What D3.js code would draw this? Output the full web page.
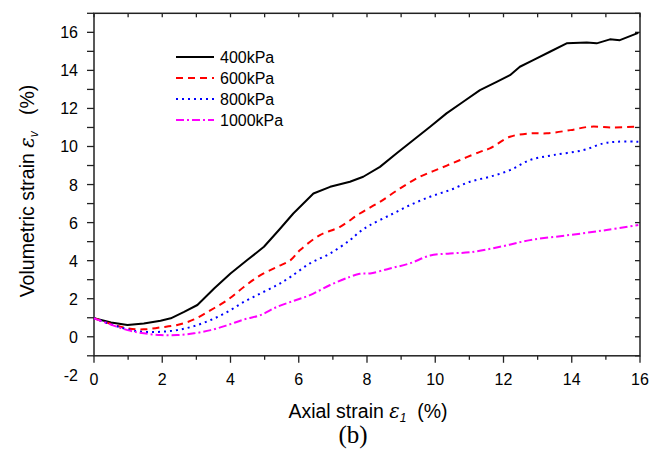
<!DOCTYPE html>
<html lang="en">
<head>
    <meta charset="utf-8">
    <script src="https://d3js.org/d3.v7.min.js"></script>
    <style>
        body { margin: 0; background: #fff; }
        text { font-family: Arial, "Liberation Sans", sans-serif; fill: #000; }
        .frame { fill: none; stroke: #222; stroke-width: 1.5; }
        .tick-line { stroke: #222; stroke-width: 1.3; }
        .curve { fill: none; stroke-width: 2; stroke-linejoin: round; }
    </style>
</head>
<body>
<script>

    // data: [axial strain %, volumetric strain %]
    let s400 = [[0, 0.97], [0.5, 0.75], [0.98, 0.62], [1.46, 0.7], [1.95, 0.84], [2.25, 0.97], [2.64, 1.31],
        [3.03, 1.67], [3.52, 2.54], [4.0, 3.33], [4.49, 4.03], [4.98, 4.73], [5.42, 5.61], [5.84, 6.48],
        [6.43, 7.53], [6.92, 7.88], [7.5, 8.15], [7.89, 8.41], [8.38, 8.93], [8.87, 9.64], [9.36, 10.34],
        [9.85, 11.04], [10.33, 11.74], [10.82, 12.35], [11.31, 12.96], [11.8, 13.4], [12.19, 13.75],
        [12.48, 14.19], [12.87, 14.54], [13.36, 14.98], [13.85, 15.42], [14.44, 15.47], [14.73, 15.42],
        [15.12, 15.63], [15.41, 15.59], [15.95, 15.97]];
    let s600 = [[0, 0.97], [0.98, 0.44], [1.46, 0.39], [1.95, 0.49], [2.44, 0.62], [2.93, 0.91], [3.42, 1.4],
        [3.91, 1.93], [4.4, 2.63], [4.88, 3.24], [5.37, 3.68], [5.76, 4.03], [6.04, 4.56], [6.62, 5.34],
        [7.21, 5.78], [7.79, 6.48], [8.38, 7.09], [8.97, 7.8], [9.55, 8.41], [10.14, 8.85], [10.73, 9.29],
        [11.31, 9.72], [11.6, 9.9], [12.19, 10.51], [12.78, 10.69], [13.27, 10.69], [13.96, 10.86],
        [14.53, 11.04], [15.22, 11.0], [15.85, 11.04]];
    let s800 = [[0, 0.97], [0.98, 0.39], [1.46, 0.26], [1.95, 0.26], [2.44, 0.35], [2.93, 0.56], [3.42, 0.88],
        [3.91, 1.31], [4.4, 1.84], [4.88, 2.28], [5.37, 2.72], [5.76, 3.15], [6.33, 3.86], [6.92, 4.38],
        [7.5, 5.08], [7.79, 5.52], [8.09, 5.87], [8.67, 6.39], [9.26, 6.92], [9.85, 7.36], [10.43, 7.71],
        [11.02, 8.15], [11.6, 8.41], [12.19, 8.76], [12.78, 9.29], [13.46, 9.55], [14.34, 9.81],
        [14.92, 10.16], [15.32, 10.25], [15.95, 10.25]];
    let s1000 = [[0, 0.97], [0.98, 0.35], [1.46, 0.18], [1.95, 0.09], [2.44, 0.09], [2.93, 0.18], [3.42, 0.35],
        [3.91, 0.61], [4.4, 0.91], [4.88, 1.14], [5.37, 1.58], [5.86, 1.89], [6.33, 2.19], [6.92, 2.72],
        [7.5, 3.15], [7.79, 3.31], [8.09, 3.33], [8.67, 3.59], [9.26, 3.86], [9.85, 4.27], [10.43, 4.38],
        [11.02, 4.44], [11.9, 4.73], [12.78, 5.08], [13.95, 5.35], [15.02, 5.61], [15.95, 5.87]];

    let seriesNames = ['400kPa', '600kPa', '800kPa', '1000kPa'];
    let seriesData = [s400, s600, s800, s1000];
    let seriesColors = ['#000000', '#ff0000', '#0000ff', '#ff00ff'];
    let seriesDash = [null, '7,5', '2,4', '8,3,2,3'];

    let xTicks = [0, 2, 4, 6, 8, 10, 12, 14, 16];
    let yTicks = [0, 2, 4, 6, 8, 10, 12, 14, 16];

    let svg = d3.select('body').append('svg')
        .attr('width', 656).attr('height', 457);

    let pLeft = 94, pRight = 640, pTop = 13.3, pBottom = 355.8;
    let x = d3.scaleLinear().domain([0, 16]).range([pLeft, pRight]);
    let y = d3.scaleLinear().domain([-1, 17]).range([pBottom, pTop]);

    // ticks: bottom/left outward, top/right inward
    let ticks = svg.append('g');
    d3.range(0, 17).forEach(function (v) {
        let major = v % 2 === 0;
        ticks.append('line').attr('class', 'tick-line')
            .attr('x1', x(v)).attr('x2', x(v))
            .attr('y1', pBottom).attr('y2', pBottom + (major ? 7 : 4));
        ticks.append('line').attr('class', 'tick-line')
            .attr('x1', x(v)).attr('x2', x(v))
            .attr('y1', pTop).attr('y2', pTop + 4);
    });
    d3.range(-1, 18).forEach(function (v) {
        ticks.append('line').attr('class', 'tick-line')
            .attr('x1', pLeft - 7).attr('x2', pLeft)
            .attr('y1', y(v)).attr('y2', y(v));
        ticks.append('line').attr('class', 'tick-line')
            .attr('x1', pRight - 5).attr('x2', pRight)
            .attr('y1', y(v)).attr('y2', y(v));
    });

    svg.append('rect').attr('class', 'frame')
        .attr('x', pLeft).attr('y', pTop)
        .attr('width', pRight - pLeft).attr('height', pBottom - pTop);

    // tick labels
    svg.append('g').selectAll('text').data(xTicks).enter().append('text')
        .attr('x', function (d) { return x(d); })
        .attr('y', pBottom + 29)
        .attr('text-anchor', 'middle')
        .style('font-size', '16px')
        .text(function (d) { return d; });

    svg.append('g').selectAll('text').data(yTicks.concat([-2])).enter().append('text')
        .attr('x', pLeft - 16)
        .attr('y', function (d) { return y(d) + 6; })
        .attr('text-anchor', 'end')
        .style('font-size', '16px')
        .text(function (d) { return d; });

    // curves
    let line = d3.line()
        .x(function (d) { return x(d[0]); })
        .y(function (d) { return y(d[1]); });

    seriesData.forEach(function (s, i) {
        svg.append('path').attr('class', 'curve')
            .attr('d', (i === 0 ? line.curve(d3.curveLinear) : line.curve(d3.curveCatmullRom))(s))
            .attr('stroke', seriesColors[i])
            .attr('stroke-dasharray', seriesDash[i]);
    });

    // legend
    let legend = svg.append('g');
    seriesNames.forEach(function (name, i) {
        let ly = 57 + i * 21;
        legend.append('line')
            .attr('x1', 176).attr('x2', 214)
            .attr('y1', ly).attr('y2', ly)
            .attr('stroke', seriesColors[i]).attr('stroke-width', 2)
            .attr('stroke-dasharray', seriesDash[i]);
        legend.append('text')
            .attr('x', 220).attr('y', ly + 6)
            .style('font-size', '16px')
            .text(name);
    });

    // axis titles
    let xt = svg.append('text')
        .attr('x', 368).attr('y', 418)
        .attr('text-anchor', 'middle')
        .style('font-size', '19.5px');
    xt.append('tspan').text('Axial strain ');
    xt.append('tspan').style('font-family', '"DejaVu Serif", serif').style('font-style', 'italic').text('ε');
    xt.append('tspan').attr('dy', 4).style('font-size', '12px').style('font-style', 'italic').text('1');
    xt.append('tspan').attr('dy', -4).attr('xml:space', 'preserve').text('  (%)');

    let yt = svg.append('text')
        .attr('transform', 'translate(34,191) rotate(-90)')
        .attr('text-anchor', 'middle')
        .style('font-size', '19.5px');
    yt.append('tspan').text('Volumetric strain ');
    yt.append('tspan').style('font-family', '"DejaVu Serif", serif').style('font-style', 'italic').text('ε');
    yt.append('tspan').attr('dy', 4).style('font-size', '12px').style('font-style', 'italic').text('v');
    yt.append('tspan').attr('dy', -4).attr('xml:space', 'preserve').text('   (%)');

    svg.append('text')
        .attr('x', 353).attr('y', 443)
        .attr('text-anchor', 'middle')
        .style('font-family', '"Liberation Serif", "Times New Roman", serif')
        .style('font-size', '25px')
        .text('(b)');

</script>
</body>
</html>
